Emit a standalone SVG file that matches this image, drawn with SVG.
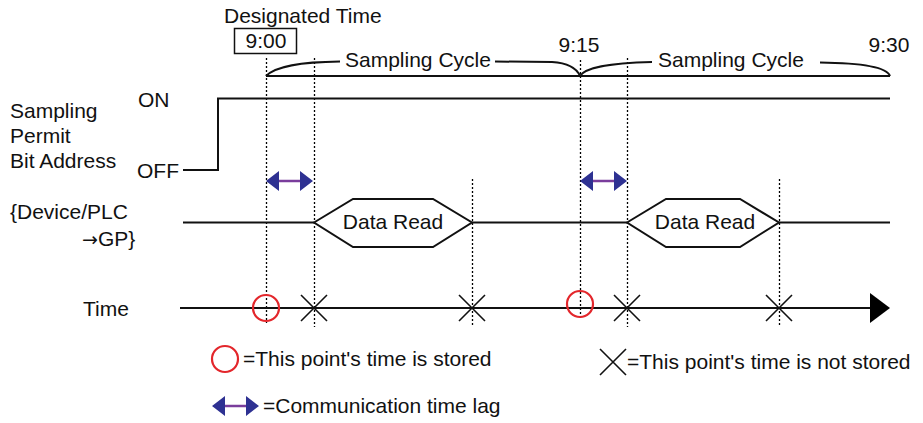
<svg xmlns="http://www.w3.org/2000/svg" width="923" height="423" viewBox="0 0 923 423">
<style>
text{font-family:"Liberation Sans",Arial,sans-serif;font-size:21px;fill:#111}
.ln{fill:none;stroke:#111;stroke-width:2}
.thin{fill:none;stroke:#111;stroke-width:1.6}
.dot{fill:none;stroke:#000;stroke-width:1.3;stroke-dasharray:2,2}
.circ{fill:none;stroke:#e3262b;stroke-width:2.2}
.hd{fill:#2e3192}
.sh{stroke:#7a3d9c;stroke-width:2.5}
.ar{font-family:"DejaVu Sans",sans-serif;font-size:19px}
</style>
<defs>
<g id="xm"><path d="M-13,-13 L13,13 M-13,13 L13,-13" class="thin"/></g>
<g id="lag"><path d="M10,0 L37,0" class="sh"/><path d="M0,0 L13,-10 L13,10 Z M47,0 L34,-10 L34,10 Z" class="hd"/></g>
</defs>
<g id="labels">
<text x="224" y="23">Designated Time</text>
<rect x="234.5" y="28.5" width="62" height="25" fill="none" stroke="#111" stroke-width="1.5"/>
<text x="266" y="48" text-anchor="middle">9:00</text>
<text x="579" y="52" text-anchor="middle">9:15</text>
<text x="889" y="52" text-anchor="middle">9:30</text>
<text x="10" y="118">Sampling</text>
<text x="10" y="143">Permit</text>
<text x="10" y="168">Bit Address</text>
<text x="138" y="107">ON</text>
<text x="137" y="178">OFF</text>
<text x="10" y="219">{Device/PLC</text>
<text x="82" y="246"><tspan class="ar">→</tspan>GP}</text>
<text x="83" y="316">Time</text>
</g>
<g id="connectors">
<path class="dot" d="M266.5,58 V323 M314.5,58 V327 M472.5,179 V327 M580.5,60 V320 M627.5,58 V327 M779.5,179 V327"/>
<path class="ln" d="M266,76 H890"/>
<path class="ln" d="M266,76 C276,66 300,62 340,61.5"/>
<path class="ln" d="M495,61.5 L552,62 C568,63 577,69 580,76"/>
<path class="ln" d="M580,76 C584,69 605,63 652,62"/>
<path class="ln" d="M820,62.5 C868,63 887,68 890,76"/>
<path class="ln" d="M183,170 H218 V98.5 H890"/>
<path class="ln" d="M183,222.5 H314 M472,222.5 H627 M779,222.5 H890"/>
<path class="ln" d="M180,308 H872"/>
<path d="M870,293 L890,308 L870,323 Z" fill="#000"/>
<use href="#lag" x="266" y="181"/>
<use href="#lag" x="580" y="181"/>
</g>
<g id="samp1"><text x="345" y="67">Sampling Cycle</text></g>
<g id="samp2"><text x="658" y="67">Sampling Cycle</text></g>
<g id="read1">
<path class="ln" d="M314,222.5 L353,199 H433 L472,222.5 L433,247 H353 Z" fill="#fff"/>
<text x="393" y="229" text-anchor="middle">Data Read</text>
</g>
<g id="read2">
<path class="ln" d="M627,222.5 L666,199 H740 L779,222.5 L740,247 H666 Z" fill="#fff"/>
<text x="705" y="229" text-anchor="middle">Data Read</text>
</g>
<g id="marks">
<circle class="circ" cx="266" cy="308" r="13"/>
<circle class="circ" cx="580" cy="304" r="13"/>
<use href="#xm" x="314" y="308"/>
<use href="#xm" x="472" y="308"/>
<use href="#xm" x="627" y="308"/>
<use href="#xm" x="779" y="308"/>
</g>
<g id="legend">
<circle class="circ" cx="225" cy="359" r="13"/>
<text x="243" y="366">=This point's time is stored</text>
<use href="#xm" x="613" y="362"/>
<text x="627" y="369">=This point's time is not stored</text>
<use href="#lag" x="212" y="406"/>
<text x="263" y="413">=Communication time lag</text>
</g>
</svg>
